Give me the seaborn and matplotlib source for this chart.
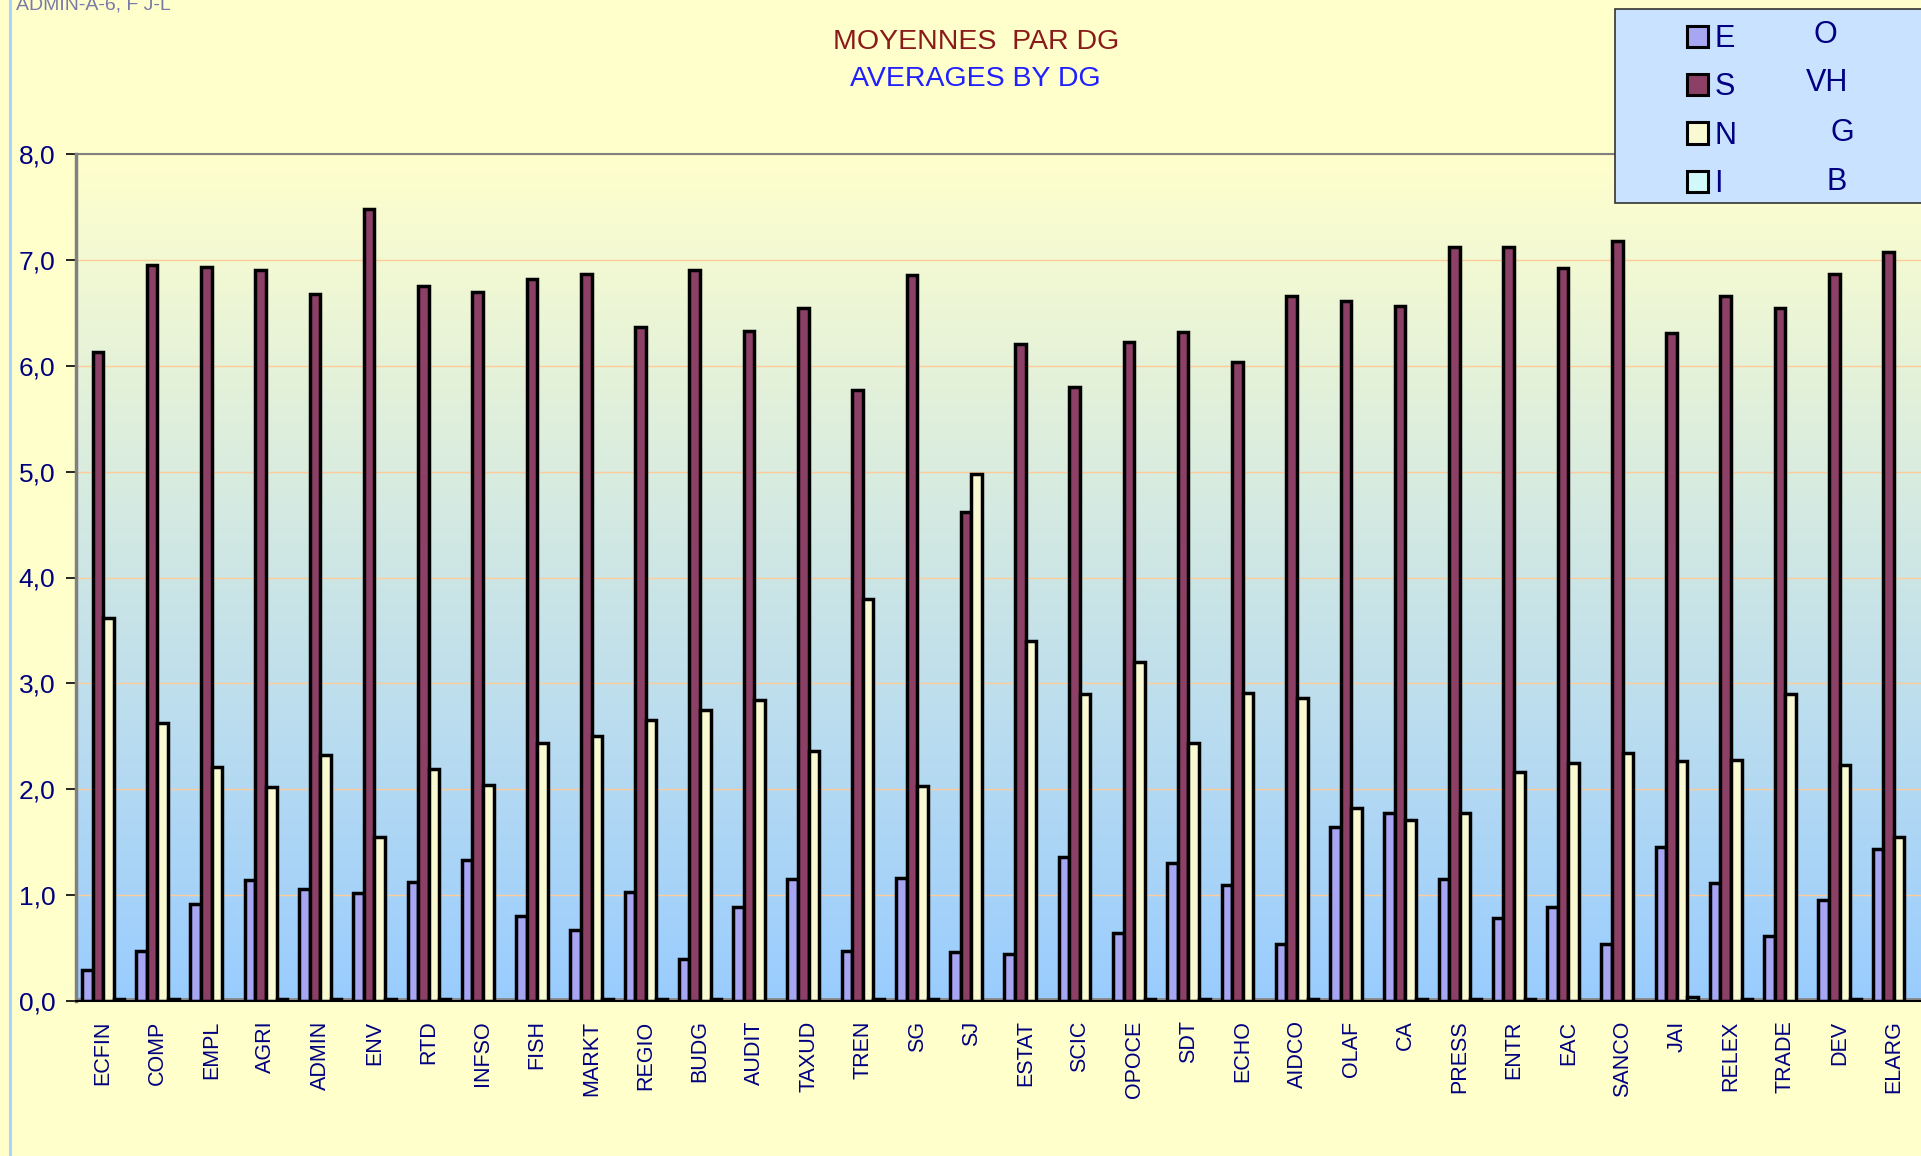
import numpy as np
import pandas as pd
import matplotlib
matplotlib.use("Agg")
import matplotlib.pyplot as plt
from matplotlib.lines import Line2D
from matplotlib.patches import Rectangle
import seaborn as sns

# values
dgs = ["ECFIN", "COMP", "EMPL", "AGRI", "ADMIN", "ENV", "RTD", "INFSO", "FISH",
       "MARKT", "REGIO", "BUDG", "AUDIT", "TAXUD", "TREN", "SG", "SJ", "ESTAT",
       "SCIC", "OPOCE", "SDT", "ECHO", "AIDCO", "OLAF", "CA", "PRESS", "ENTR",
       "EAC", "SANCO", "JAI", "RELEX", "TRADE", "DEV", "ELARG"]
serie_e = [0.29, 0.47, 0.92, 1.14, 1.06, 1.02, 1.12, 1.33, 0.80, 0.67, 1.03,
           0.40, 0.89, 1.15, 0.47, 1.16, 0.46, 0.44, 1.36, 0.64, 1.30, 1.10,
           0.54, 1.64, 1.78, 1.15, 0.78, 0.89, 0.54, 1.45, 1.11, 0.61, 0.95, 1.44]
serie_s = [6.13, 6.95, 6.93, 6.90, 6.68, 7.48, 6.75, 6.70, 6.82, 6.87, 6.37,
           6.90, 6.33, 6.55, 5.77, 6.86, 4.62, 6.21, 5.80, 6.22, 6.32, 6.04,
           6.66, 6.61, 6.56, 7.12, 7.12, 6.92, 7.18, 6.31, 6.66, 6.55, 6.87, 7.07]
serie_n = [3.62, 2.63, 2.21, 2.02, 2.32, 1.55, 2.19, 2.04, 2.44, 2.50, 2.65,
           2.75, 2.84, 2.36, 3.80, 2.03, 4.98, 3.40, 2.90, 3.20, 2.44, 2.91,
           2.86, 1.82, 1.71, 1.78, 2.16, 2.25, 2.34, 2.27, 2.28, 2.90, 2.23, 1.55]
nan = np.nan
serie_i = [0.02, 0.02, nan, 0.02, 0.02, 0.02, 0.02, nan, nan, 0.02, 0.02,
           0.02, nan, nan, 0.02, 0.02, nan, nan, nan, 0.02, 0.02, nan,
           0.02, nan, 0.02, 0.02, 0.02, nan, nan, 0.04, 0.02, nan, 0.02, nan]
series = ["E", "S", "N", "I"]
extra = ["O", "VH", "G", "B"]
colors = ["#9999FF", "#993366", "#FFFFCC", "#CCFFFF"]

df = pd.DataFrame({
    "dg": dgs * 4,
    "serie": np.repeat(series, len(dgs)),
    "value": serie_e + serie_s + serie_n + serie_i,
})

W, H = 1921, 1156
sns.set_style("white")
plt.rcParams["font.family"] = ["Liberation Sans", "DejaVu Sans"]

fig = plt.figure(figsize=(W / 100, H / 100), dpi=100, facecolor="#FFFFCC")
ax = fig.add_axes([76 / W, 1 - 1001 / H, 1 - 76 / W, (1001 - 154) / H])

# yellow -> blue background of the plot area
grad = np.linspace(0, 1, 256).reshape(-1, 1)
cmap = matplotlib.colors.LinearSegmentedColormap.from_list("bg", ["#99CCFF", "#FFFFCC"])
ax.imshow(grad, extent=[-0.5, len(dgs) - 0.5, 0, 8], aspect="auto",
          origin="lower", cmap=cmap, zorder=0)

sns.barplot(data=df, x="dg", y="value", hue="serie", palette=colors,
            width=0.78, edgecolor="black", linewidth=2.5, errorbar=None, ax=ax)
handles, labels = ax.get_legend_handles_labels()
ax.get_legend().remove()

ax.axhline(0, color="#8C8C8C", lw=5, zorder=0.8)
ax.set_xlim(-0.5, len(dgs) - 0.5)
ax.set_ylim(0, 8)
ax.set_yticks(range(9))
ax.set_yticklabels([f"{v:.1f}".replace(".", ",") for v in range(9)])
ax.set_xlabel("")
ax.set_ylabel("")
ax.grid(axis="y", color="#FFCC99", lw=1)
ax.set_axisbelow(True)

ax.set_xticks(np.arange(-0.5, len(dgs), 1), minor=True)
ax.tick_params(axis="x", which="major", length=0, pad=14, labelsize=15.5,
               labelcolor="#000080", labelrotation=90)
ax.tick_params(axis="x", which="minor", direction="in", length=7, width=1.2, color="#333333")
ax.tick_params(axis="y", which="major", direction="out", left=True, length=7,
               width=1.2, color="black", pad=8, labelsize=19, labelcolor="#000080")
for lab in ax.get_xticklabels():
    lab.set_va("top")

ax.spines["left"].set_color("#808080")
ax.spines["left"].set_linewidth(2.5)
ax.spines["top"].set_color("#808080")
ax.spines["top"].set_linewidth(1.5)
ax.spines["bottom"].set_color("black")
ax.spines["bottom"].set_linewidth(1.5)
ax.spines["right"].set_visible(False)

# titles
fig.text(976 / W, 1 - 42 / H, "MOYENNES  PAR DG", ha="center", va="center",
         fontsize=20.5, color="#8B1A1A")
fig.text(975 / W, 1 - 79 / H, "AVERAGES BY DG", ha="center", va="center",
         fontsize=20.5, color="#1F1FFF")
fig.text(16 / W, 1 - 9 / H, "ADMIN-A-6, F J-L", ha="left", va="baseline",
         fontsize=14, color="#7A7AA8")
fig.add_artist(Line2D([10 / W, 10 / W], [0, 1], color="#A8D0FF", lw=2,
                      transform=fig.transFigure))

# legend box
fig.add_artist(Rectangle((1615 / W, 1 - 203 / H), (W - 1615) / W + 0.01, 194 / H,
                         transform=fig.transFigure, facecolor="#C8E2FF",
                         edgecolor="#333333", lw=1.2, zorder=5))
leg = fig.legend(handles, labels, loc="upper left",
                 bbox_to_anchor=(1687 / W, 1 - 24 / H), frameon=False,
                 fontsize=22, labelcolor="#000080", handlelength=0.7,
                 handleheight=0.7, handletextpad=0.2, labelspacing=0.6,
                 borderpad=0, borderaxespad=0)
leg.set_zorder(6)
for h in leg.legend_handles:
    h.set_linewidth(2.2)
for txt, xc, yc in zip(extra, [1825, 1827, 1842, 1837], [35, 83, 133, 182]):
    t = fig.text(xc / W, 1 - yc / H, txt, ha="center", va="center",
                 fontsize=22, color="#000080")
    t.set_zorder(7)

fig.savefig("out.png", dpi=100, facecolor=fig.get_facecolor())
